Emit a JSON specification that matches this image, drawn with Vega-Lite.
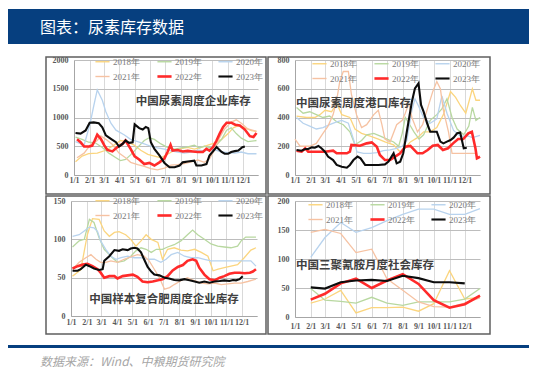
{
"$schema": "https://vega.github.io/schema/vega-lite/v6.json",
"padding": {"left": 8, "top": 9, "right": 0, "bottom": 0},
"background": "white",
"config": {
  "view": {"stroke": null},
  "font": "Liberation Serif",
  "axis": {"labelFont": "Liberation Serif", "labelFontSize": 8, "labelFontWeight": "bold", "labelColor": "#595959", "ticks": false, "domainColor": "#a6a6a6", "labelFlush": false, "labelOverlap": false, "tickCount": 30},
  "axisX": {"gridColor": "#d9d9d9", "labelPadding": 1},
  "axisY": {"gridColor": "#bdbdbd", "labelPadding": 6},
  "legend": {"orient": "none", "direction": "horizontal", "columns": 3, "symbolType": "stroke", "symbolSize": 200, "labelOffset": 6, "columnPadding": 12, "rowPadding": 4, "padding": 0, "labelFont": "Liberation Serif", "labelFontSize": 9, "labelColor": "#7a7a7a"}
},
"datasets": {
"p1": [
{"s":"2018年","d":"1/4","v":230},{"s":"2018年","d":"1/17","v":330},{"s":"2018年","d":"1/30","v":370},{"s":"2018年","d":"2/16","v":380},{"s":"2018年","d":"3/5","v":430},{"s":"2018年","d":"3/21","v":520},{"s":"2018年","d":"4/3","v":600},{"s":"2018年","d":"4/16","v":580},{"s":"2018年","d":"4/30","v":520},{"s":"2018年","d":"5/13","v":430},{"s":"2018年","d":"5/27","v":360},{"s":"2018年","d":"6/9","v":330},{"s":"2018年","d":"6/22","v":300},{"s":"2018年","d":"7/5","v":360},{"s":"2018年","d":"7/19","v":430},{"s":"2018年","d":"8/1","v":460},{"s":"2018年","d":"8/14","v":480},{"s":"2018年","d":"8/27","v":450},{"s":"2018年","d":"9/10","v":480},{"s":"2018年","d":"9/23","v":520},{"s":"2018年","d":"10/7","v":560},{"s":"2018年","d":"10/20","v":620},{"s":"2018年","d":"11/2","v":720},{"s":"2018年","d":"11/12","v":820},{"s":"2018年","d":"11/22","v":860},{"s":"2018年","d":"12/5","v":820},{"s":"2018年","d":"12/18","v":770},{"s":"2018年","d":"12/28","v":760},
{"s":"2019年","d":"1/4","v":660},{"s":"2019年","d":"1/17","v":620},{"s":"2019年","d":"1/30","v":570},{"s":"2019年","d":"2/12","v":560},{"s":"2019年","d":"2/26","v":480},{"s":"2019年","d":"3/11","v":380},{"s":"2019年","d":"3/25","v":300},{"s":"2019年","d":"4/3","v":250},{"s":"2019年","d":"4/13","v":270},{"s":"2019年","d":"4/23","v":350},{"s":"2019年","d":"5/7","v":480},{"s":"2019年","d":"5/20","v":600},{"s":"2019年","d":"5/30","v":650},{"s":"2019年","d":"6/9","v":620},{"s":"2019年","d":"6/22","v":540},{"s":"2019年","d":"7/5","v":480},{"s":"2019年","d":"7/19","v":450},{"s":"2019年","d":"8/1","v":470},{"s":"2019年","d":"8/14","v":490},{"s":"2019年","d":"8/27","v":520},{"s":"2019年","d":"9/6","v":470},{"s":"2019年","d":"9/16","v":500},{"s":"2019年","d":"9/29","v":470},{"s":"2019年","d":"10/10","v":520},{"s":"2019年","d":"10/20","v":620},{"s":"2019年","d":"10/30","v":780},{"s":"2019年","d":"11/8","v":820},{"s":"2019年","d":"11/18","v":720},{"s":"2019年","d":"11/28","v":640},{"s":"2019年","d":"12/11","v":580},{"s":"2019年","d":"12/28","v":600},
{"s":"2020年","d":"1/4","v":580},{"s":"2020年","d":"1/21","v":520},{"s":"2020年","d":"2/2","v":900},{"s":"2020年","d":"2/9","v":1200},{"s":"2020年","d":"2/16","v":1480},{"s":"2020年","d":"2/26","v":1300},{"s":"2020年","d":"3/5","v":1100},{"s":"2020年","d":"3/15","v":900},{"s":"2020年","d":"3/25","v":780},{"s":"2020年","d":"3/31","v":750},{"s":"2020年","d":"4/10","v":700},{"s":"2020年","d":"4/23","v":620},{"s":"2020年","d":"5/7","v":580},{"s":"2020年","d":"5/20","v":540},{"s":"2020年","d":"6/2","v":500},{"s":"2020年","d":"6/15","v":470},{"s":"2020年","d":"6/29","v":450},{"s":"2020年","d":"7/12","v":420},{"s":"2020年","d":"7/25","v":400},{"s":"2020年","d":"8/7","v":380},{"s":"2020年","d":"8/21","v":400},{"s":"2020年","d":"9/3","v":430},{"s":"2020年","d":"9/16","v":420},{"s":"2020年","d":"9/29","v":450},{"s":"2020年","d":"10/10","v":430},{"s":"2020年","d":"10/20","v":400},{"s":"2020年","d":"11/2","v":390},{"s":"2020年","d":"11/15","v":380},{"s":"2020年","d":"11/28","v":400},{"s":"2020年","d":"12/11","v":370},{"s":"2020年","d":"12/28","v":370},
{"s":"2021年","d":"1/7","v":300},{"s":"2021年","d":"1/21","v":380},{"s":"2021年","d":"2/2","v":520},{"s":"2021年","d":"2/16","v":600},{"s":"2021年","d":"2/23","v":680},{"s":"2021年","d":"3/5","v":620},{"s":"2021年","d":"3/18","v":530},{"s":"2021年","d":"3/31","v":380},{"s":"2021年","d":"4/13","v":300},{"s":"2021年","d":"4/23","v":220},{"s":"2021年","d":"5/7","v":180},{"s":"2021年","d":"5/20","v":150},{"s":"2021年","d":"6/2","v":110},{"s":"2021年","d":"6/15","v":90},{"s":"2021年","d":"6/29","v":120},{"s":"2021年","d":"7/12","v":170},{"s":"2021年","d":"7/25","v":180},{"s":"2021年","d":"8/7","v":200},{"s":"2021年","d":"8/21","v":230},{"s":"2021年","d":"9/3","v":260},{"s":"2021年","d":"9/16","v":220},{"s":"2021年","d":"9/26","v":280},{"s":"2021年","d":"10/7","v":450},{"s":"2021年","d":"10/16","v":650},{"s":"2021年","d":"10/26","v":800},{"s":"2021年","d":"11/8","v":920},{"s":"2021年","d":"11/18","v":960},{"s":"2021年","d":"11/28","v":900},{"s":"2021年","d":"12/11","v":800},{"s":"2021年","d":"12/28","v":760},
{"s":"2022年","d":"1/7","v":620},{"s":"2022年","d":"1/14","v":570},{"s":"2022年","d":"1/21","v":495},{"s":"2022年","d":"1/31","v":495},{"s":"2022年","d":"2/6","v":510},{"s":"2022年","d":"2/11","v":600},{"s":"2022年","d":"2/16","v":700},{"s":"2022年","d":"2/23","v":630},{"s":"2022年","d":"3/2","v":515},{"s":"2022年","d":"3/8","v":435},{"s":"2022年","d":"3/18","v":410},{"s":"2022年","d":"3/28","v":485},{"s":"2022年","d":"4/7","v":540},{"s":"2022年","d":"4/13","v":600},{"s":"2022年","d":"4/23","v":455},{"s":"2022年","d":"5/1","v":325},{"s":"2022年","d":"5/10","v":270},{"s":"2022年","d":"5/20","v":190},{"s":"2022年","d":"5/30","v":210},{"s":"2022年","d":"6/9","v":165},{"s":"2022年","d":"6/19","v":220},{"s":"2022年","d":"6/29","v":290},{"s":"2022年","d":"7/5","v":400},{"s":"2022年","d":"7/11","v":525},{"s":"2022年","d":"7/15","v":425},{"s":"2022年","d":"7/25","v":435},{"s":"2022年","d":"8/4","v":410},{"s":"2022年","d":"8/14","v":420},{"s":"2022年","d":"8/24","v":410},{"s":"2022年","d":"9/3","v":400},{"s":"2022年","d":"9/13","v":400},{"s":"2022年","d":"9/20","v":455},{"s":"2022年","d":"9/26","v":425},{"s":"2022年","d":"10/3","v":485},{"s":"2022年","d":"10/10","v":600},{"s":"2022年","d":"10/16","v":715},{"s":"2022年","d":"10/23","v":835},{"s":"2022年","d":"10/30","v":910},{"s":"2022年","d":"11/8","v":910},{"s":"2022年","d":"11/16","v":875},{"s":"2022年","d":"11/25","v":860},{"s":"2022年","d":"12/5","v":790},{"s":"2022年","d":"12/15","v":675},{"s":"2022年","d":"12/22","v":660},{"s":"2022年","d":"12/28","v":730},
{"s":"2023年","d":"1/4","v":730},{"s":"2023年","d":"1/14","v":720},{"s":"2023年","d":"1/24","v":775},{"s":"2023年","d":"2/1","v":910},{"s":"2023年","d":"2/9","v":915},{"s":"2023年","d":"2/19","v":900},{"s":"2023年","d":"2/26","v":830},{"s":"2023年","d":"3/5","v":690},{"s":"2023年","d":"3/15","v":630},{"s":"2023年","d":"3/25","v":570},{"s":"2023年","d":"3/31","v":495},{"s":"2023年","d":"4/7","v":540},{"s":"2023年","d":"4/13","v":600},{"s":"2023年","d":"4/20","v":560},{"s":"2023年","d":"4/27","v":570},{"s":"2023年","d":"5/1","v":880},{"s":"2023年","d":"5/10","v":815},{"s":"2023年","d":"5/17","v":790},{"s":"2023年","d":"5/23","v":835},{"s":"2023年","d":"5/28","v":815},{"s":"2023年","d":"6/2","v":570},{"s":"2023年","d":"6/9","v":455},{"s":"2023年","d":"6/19","v":340},{"s":"2023年","d":"6/29","v":210},{"s":"2023年","d":"7/9","v":135},{"s":"2023年","d":"7/19","v":135},{"s":"2023年","d":"7/29","v":165},{"s":"2023年","d":"8/4","v":220},{"s":"2023年","d":"8/14","v":235},{"s":"2023年","d":"8/27","v":250},{"s":"2023年","d":"8/31","v":165},{"s":"2023年","d":"9/10","v":165},{"s":"2023年","d":"9/20","v":190},{"s":"2023年","d":"9/26","v":340},{"s":"2023年","d":"10/10","v":485},{"s":"2023年","d":"10/20","v":400},{"s":"2023年","d":"10/26","v":370},{"s":"2023年","d":"11/2","v":370},{"s":"2023年","d":"11/8","v":400},{"s":"2023年","d":"11/15","v":415},{"s":"2023年","d":"11/22","v":425},{"s":"2023年","d":"11/30","v":485},{"s":"2023年","d":"12/5","v":495}
],
"p2": [
{"s":"2018年","d":"1/4","v":410},{"s":"2018年","d":"1/24","v":400},{"s":"2018年","d":"2/9","v":400},{"s":"2018年","d":"2/19","v":420},{"s":"2018年","d":"3/1","v":450},{"s":"2018年","d":"3/14","v":440},{"s":"2018年","d":"3/24","v":500},{"s":"2018年","d":"4/3","v":420},{"s":"2018年","d":"4/19","v":400},{"s":"2018年","d":"4/29","v":320},{"s":"2018年","d":"5/12","v":290},{"s":"2018年","d":"5/29","v":270},{"s":"2018年","d":"6/14","v":250},{"s":"2018年","d":"6/27","v":230},{"s":"2018年","d":"7/14","v":210},{"s":"2018年","d":"7/27","v":160},{"s":"2018年","d":"8/6","v":190},{"s":"2018年","d":"8/16","v":230},{"s":"2018年","d":"8/30","v":260},{"s":"2018年","d":"9/11","v":300},{"s":"2018年","d":"9/24","v":300},{"s":"2018年","d":"10/7","v":330},{"s":"2018年","d":"10/20","v":420},{"s":"2018年","d":"11/3","v":580},{"s":"2018年","d":"11/13","v":540},{"s":"2018年","d":"11/23","v":480},{"s":"2018年","d":"12/3","v":430},{"s":"2018年","d":"12/10","v":520},{"s":"2018年","d":"12/16","v":600},{"s":"2018年","d":"12/23","v":520},{"s":"2018年","d":"12/31","v":520},
{"s":"2019年","d":"1/4","v":470},{"s":"2019年","d":"1/17","v":430},{"s":"2019年","d":"1/30","v":440},{"s":"2019年","d":"2/12","v":420},{"s":"2019年","d":"2/25","v":400},{"s":"2019年","d":"3/10","v":410},{"s":"2019年","d":"3/24","v":370},{"s":"2019年","d":"4/6","v":350},{"s":"2019年","d":"4/19","v":300},{"s":"2019年","d":"4/29","v":210},{"s":"2019年","d":"5/12","v":240},{"s":"2019年","d":"5/22","v":280},{"s":"2019年","d":"6/5","v":290},{"s":"2019年","d":"6/18","v":270},{"s":"2019年","d":"7/1","v":250},{"s":"2019年","d":"7/14","v":230},{"s":"2019年","d":"7/24","v":200},{"s":"2019年","d":"7/31","v":290},{"s":"2019年","d":"8/6","v":400},{"s":"2019年","d":"8/13","v":360},{"s":"2019年","d":"8/23","v":300},{"s":"2019年","d":"9/2","v":250},{"s":"2019年","d":"9/11","v":280},{"s":"2019年","d":"9/24","v":380},{"s":"2019年","d":"10/7","v":420},{"s":"2019年","d":"10/17","v":460},{"s":"2019年","d":"10/27","v":530},{"s":"2019年","d":"11/6","v":400},{"s":"2019年","d":"11/16","v":320},{"s":"2019年","d":"11/29","v":280},{"s":"2019年","d":"12/9","v":340},{"s":"2019年","d":"12/16","v":470},{"s":"2019年","d":"12/23","v":380},{"s":"2019年","d":"12/31","v":400},
{"s":"2020年","d":"1/4","v":400},{"s":"2020年","d":"1/17","v":360},{"s":"2020年","d":"1/30","v":340},{"s":"2020年","d":"2/12","v":320},{"s":"2020年","d":"2/25","v":330},{"s":"2020年","d":"3/10","v":350},{"s":"2020年","d":"3/24","v":370},{"s":"2020年","d":"4/3","v":380},{"s":"2020年","d":"4/16","v":360},{"s":"2020年","d":"4/26","v":250},{"s":"2020年","d":"5/3","v":160},{"s":"2020年","d":"5/16","v":150},{"s":"2020年","d":"5/29","v":150},{"s":"2020年","d":"6/11","v":155},{"s":"2020年","d":"6/24","v":170},{"s":"2020年","d":"7/7","v":175},{"s":"2020年","d":"7/20","v":185},{"s":"2020年","d":"7/31","v":200},{"s":"2020年","d":"8/9","v":240},{"s":"2020年","d":"8/19","v":450},{"s":"2020年","d":"8/25","v":530},{"s":"2020年","d":"9/1","v":480},{"s":"2020年","d":"9/11","v":400},{"s":"2020年","d":"9/24","v":360},{"s":"2020年","d":"10/7","v":390},{"s":"2020年","d":"10/17","v":550},{"s":"2020年","d":"10/27","v":430},{"s":"2020年","d":"11/9","v":310},{"s":"2020年","d":"11/22","v":270},{"s":"2020年","d":"12/8","v":270},{"s":"2020年","d":"12/16","v":260},{"s":"2020年","d":"12/26","v":270},{"s":"2020年","d":"12/31","v":275},
{"s":"2021年","d":"1/1","v":250},{"s":"2021年","d":"1/11","v":200},{"s":"2021年","d":"1/30","v":200},{"s":"2021年","d":"2/12","v":220},{"s":"2021年","d":"2/25","v":290},{"s":"2021年","d":"3/7","v":340},{"s":"2021年","d":"3/17","v":420},{"s":"2021年","d":"3/24","v":520},{"s":"2021年","d":"3/30","v":650},{"s":"2021年","d":"4/6","v":720},{"s":"2021年","d":"4/16","v":720},{"s":"2021年","d":"4/22","v":560},{"s":"2021年","d":"5/2","v":420},{"s":"2021年","d":"5/12","v":330},{"s":"2021年","d":"5/22","v":350},{"s":"2021年","d":"6/5","v":420},{"s":"2021年","d":"6/14","v":450},{"s":"2021年","d":"6/21","v":350},{"s":"2021年","d":"6/27","v":250},{"s":"2021年","d":"7/7","v":230},{"s":"2021年","d":"7/20","v":350},{"s":"2021年","d":"7/31","v":380},{"s":"2021年","d":"8/6","v":430},{"s":"2021年","d":"8/13","v":500},{"s":"2021年","d":"8/19","v":400},{"s":"2021年","d":"8/30","v":300},{"s":"2021年","d":"9/9","v":350},{"s":"2021年","d":"9/22","v":500},{"s":"2021年","d":"9/29","v":580},{"s":"2021年","d":"10/7","v":650},{"s":"2021年","d":"10/14","v":600},{"s":"2021年","d":"10/20","v":450},{"s":"2021年","d":"10/30","v":300},{"s":"2021年","d":"11/6","v":150},{"s":"2021年","d":"11/16","v":150},{"s":"2021年","d":"11/29","v":150},{"s":"2021年","d":"12/12","v":150},{"s":"2021年","d":"12/23","v":150},
{"s":"2022年","d":"1/4","v":169},{"s":"2022年","d":"1/14","v":162},{"s":"2022年","d":"1/21","v":186},{"s":"2022年","d":"1/27","v":162},{"s":"2022年","d":"2/12","v":162},{"s":"2022年","d":"3/1","v":162},{"s":"2022年","d":"3/17","v":169},{"s":"2022年","d":"3/24","v":151},{"s":"2022年","d":"4/13","v":151},{"s":"2022年","d":"4/19","v":162},{"s":"2022年","d":"4/22","v":209},{"s":"2022年","d":"5/9","v":204},{"s":"2022年","d":"5/22","v":220},{"s":"2022年","d":"6/1","v":227},{"s":"2022年","d":"6/11","v":197},{"s":"2022年","d":"6/17","v":139},{"s":"2022年","d":"6/27","v":104},{"s":"2022年","d":"7/7","v":104},{"s":"2022年","d":"7/17","v":128},{"s":"2022年","d":"7/27","v":151},{"s":"2022年","d":"8/6","v":197},{"s":"2022年","d":"8/16","v":202},{"s":"2022年","d":"8/30","v":151},{"s":"2022年","d":"9/9","v":151},{"s":"2022年","d":"9/19","v":174},{"s":"2022年","d":"9/29","v":204},{"s":"2022年","d":"10/9","v":209},{"s":"2022年","d":"10/19","v":174},{"s":"2022年","d":"10/29","v":186},{"s":"2022年","d":"11/8","v":220},{"s":"2022年","d":"11/18","v":250},{"s":"2022年","d":"11/28","v":250},{"s":"2022年","d":"12/8","v":290},{"s":"2022年","d":"12/15","v":301},{"s":"2022年","d":"12/22","v":186},{"s":"2022年","d":"12/25","v":116},{"s":"2022年","d":"12/28","v":121},{"s":"2022年","d":"12/31","v":128},
{"s":"2023年","d":"1/4","v":174},{"s":"2023年","d":"1/14","v":169},{"s":"2023年","d":"1/21","v":181},{"s":"2023年","d":"1/27","v":181},{"s":"2023年","d":"2/3","v":192},{"s":"2023年","d":"2/9","v":190},{"s":"2023年","d":"2/16","v":202},{"s":"2023年","d":"2/22","v":186},{"s":"2023年","d":"3/1","v":162},{"s":"2023年","d":"3/7","v":128},{"s":"2023年","d":"3/17","v":104},{"s":"2023年","d":"3/24","v":70},{"s":"2023年","d":"4/3","v":58},{"s":"2023年","d":"4/13","v":51},{"s":"2023年","d":"4/19","v":70},{"s":"2023年","d":"4/26","v":104},{"s":"2023年","d":"5/4","v":128},{"s":"2023年","d":"5/10","v":116},{"s":"2023年","d":"5/19","v":70},{"s":"2023年","d":"6/1","v":70},{"s":"2023年","d":"6/14","v":70},{"s":"2023年","d":"6/27","v":74},{"s":"2023年","d":"7/4","v":93},{"s":"2023年","d":"7/10","v":128},{"s":"2023年","d":"7/14","v":151},{"s":"2023年","d":"7/20","v":81},{"s":"2023年","d":"7/27","v":93},{"s":"2023年","d":"8/2","v":151},{"s":"2023年","d":"8/9","v":301},{"s":"2023年","d":"8/19","v":510},{"s":"2023年","d":"8/25","v":603},{"s":"2023年","d":"9/1","v":638},{"s":"2023年","d":"9/6","v":487},{"s":"2023年","d":"9/11","v":441},{"s":"2023年","d":"9/18","v":359},{"s":"2023年","d":"9/24","v":301},{"s":"2023年","d":"10/1","v":301},{"s":"2023年","d":"10/7","v":301},{"s":"2023年","d":"10/14","v":232},{"s":"2023年","d":"10/20","v":220},{"s":"2023年","d":"10/27","v":232},{"s":"2023年","d":"11/3","v":243},{"s":"2023年","d":"11/9","v":260},{"s":"2023年","d":"11/16","v":290},{"s":"2023年","d":"11/22","v":295},{"s":"2023年","d":"11/29","v":186},{"s":"2023年","d":"12/5","v":190}
],
"p3": [
{"s":"2018年","d":"1/4","v":52},{"s":"2018年","d":"1/20","v":60},{"s":"2018年","d":"2/2","v":106},{"s":"2018年","d":"2/12","v":127},{"s":"2018年","d":"2/25","v":126},{"s":"2018年","d":"3/7","v":111},{"s":"2018年","d":"3/17","v":104},{"s":"2018年","d":"3/27","v":109},{"s":"2018年","d":"4/5","v":110},{"s":"2018年","d":"4/18","v":106},{"s":"2018年","d":"4/28","v":100},{"s":"2018年","d":"5/8","v":91},{"s":"2018年","d":"5/18","v":98},{"s":"2018年","d":"5/28","v":106},{"s":"2018年","d":"6/7","v":100},{"s":"2018年","d":"6/20","v":96},{"s":"2018年","d":"6/29","v":74},{"s":"2018年","d":"7/9","v":87},{"s":"2018年","d":"7/22","v":89},{"s":"2018年","d":"8/4","v":86},{"s":"2018年","d":"8/17","v":85},{"s":"2018年","d":"8/31","v":87},{"s":"2018年","d":"9/13","v":83},{"s":"2018年","d":"9/26","v":78},{"s":"2018年","d":"10/6","v":59},{"s":"2018年","d":"10/16","v":61},{"s":"2018年","d":"10/28","v":63},{"s":"2018年","d":"11/10","v":65},{"s":"2018年","d":"11/23","v":67},{"s":"2018年","d":"12/6","v":76},{"s":"2018年","d":"12/19","v":86},{"s":"2018年","d":"12/29","v":89},
{"s":"2019年","d":"1/4","v":90},{"s":"2019年","d":"1/17","v":98},{"s":"2019年","d":"1/27","v":100},{"s":"2019年","d":"2/6","v":126},{"s":"2019年","d":"2/15","v":122},{"s":"2019年","d":"2/25","v":102},{"s":"2019年","d":"3/7","v":87},{"s":"2019年","d":"3/17","v":80},{"s":"2019年","d":"3/23","v":76},{"s":"2019年","d":"4/2","v":70},{"s":"2019年","d":"4/15","v":72},{"s":"2019年","d":"4/28","v":78},{"s":"2019年","d":"5/8","v":85},{"s":"2019年","d":"5/18","v":89},{"s":"2019年","d":"5/28","v":87},{"s":"2019年","d":"6/7","v":83},{"s":"2019年","d":"6/17","v":87},{"s":"2019年","d":"6/29","v":87},{"s":"2019年","d":"7/9","v":90},{"s":"2019年","d":"7/22","v":93},{"s":"2019年","d":"8/4","v":98},{"s":"2019年","d":"8/17","v":106},{"s":"2019年","d":"8/27","v":112},{"s":"2019年","d":"9/6","v":106},{"s":"2019年","d":"9/19","v":100},{"s":"2019年","d":"10/2","v":94},{"s":"2019年","d":"10/15","v":91},{"s":"2019年","d":"10/28","v":90},{"s":"2019年","d":"11/10","v":89},{"s":"2019年","d":"11/23","v":91},{"s":"2019年","d":"11/30","v":98},{"s":"2019年","d":"12/9","v":103},{"s":"2019年","d":"12/29","v":103},
{"s":"2020年","d":"1/4","v":104},{"s":"2020年","d":"1/17","v":106},{"s":"2020年","d":"1/27","v":111},{"s":"2020年","d":"2/6","v":116},{"s":"2020年","d":"2/15","v":115},{"s":"2020年","d":"2/22","v":110},{"s":"2020年","d":"2/28","v":98},{"s":"2020年","d":"3/10","v":87},{"s":"2020年","d":"3/20","v":78},{"s":"2020年","d":"3/30","v":74},{"s":"2020年","d":"4/9","v":76},{"s":"2020年","d":"4/22","v":78},{"s":"2020年","d":"5/5","v":76},{"s":"2020年","d":"5/18","v":76},{"s":"2020年","d":"5/31","v":74},{"s":"2020年","d":"6/13","v":74},{"s":"2020年","d":"6/26","v":70},{"s":"2020年","d":"7/6","v":74},{"s":"2020年","d":"7/16","v":80},{"s":"2020年","d":"7/29","v":83},{"s":"2020年","d":"8/11","v":78},{"s":"2020年","d":"8/24","v":76},{"s":"2020年","d":"9/6","v":76},{"s":"2020年","d":"9/19","v":74},{"s":"2020年","d":"10/2","v":72},{"s":"2020年","d":"10/15","v":72},{"s":"2020年","d":"10/28","v":72},{"s":"2020年","d":"11/10","v":72},{"s":"2020年","d":"11/23","v":72},{"s":"2020年","d":"12/6","v":72},{"s":"2020年","d":"12/19","v":72},{"s":"2020年","d":"12/29","v":65},
{"s":"2021年","d":"1/4","v":61},{"s":"2021年","d":"1/17","v":70},{"s":"2021年","d":"1/30","v":76},{"s":"2021年","d":"2/9","v":80},{"s":"2021年","d":"2/19","v":74},{"s":"2021年","d":"2/28","v":70},{"s":"2021年","d":"3/10","v":70},{"s":"2021年","d":"3/20","v":72},{"s":"2021年","d":"4/2","v":70},{"s":"2021年","d":"4/15","v":74},{"s":"2021年","d":"4/28","v":77},{"s":"2021年","d":"5/11","v":80},{"s":"2021年","d":"5/24","v":78},{"s":"2021年","d":"6/3","v":72},{"s":"2021年","d":"6/13","v":61},{"s":"2021年","d":"6/23","v":50},{"s":"2021年","d":"7/3","v":35},{"s":"2021年","d":"7/13","v":37},{"s":"2021年","d":"7/22","v":41},{"s":"2021年","d":"8/4","v":46},{"s":"2021年","d":"8/17","v":50},{"s":"2021年","d":"8/31","v":46},{"s":"2021年","d":"9/13","v":43},{"s":"2021年","d":"9/26","v":42},{"s":"2021年","d":"10/9","v":43},{"s":"2021年","d":"10/22","v":41},{"s":"2021年","d":"11/4","v":42},{"s":"2021年","d":"11/17","v":43},{"s":"2021年","d":"11/30","v":43},{"s":"2021年","d":"12/13","v":45},{"s":"2021年","d":"12/29","v":48},
{"s":"2022年","d":"1/4","v":62},{"s":"2022年","d":"1/14","v":65},{"s":"2022年","d":"1/24","v":67},{"s":"2022年","d":"2/2","v":68},{"s":"2022年","d":"2/12","v":65},{"s":"2022年","d":"2/22","v":61},{"s":"2022年","d":"2/28","v":56.5},{"s":"2022年","d":"3/7","v":50},{"s":"2022年","d":"3/17","v":52},{"s":"2022年","d":"3/27","v":52},{"s":"2022年","d":"4/2","v":49},{"s":"2022年","d":"4/12","v":52},{"s":"2022年","d":"4/22","v":53},{"s":"2022年","d":"5/2","v":54},{"s":"2022年","d":"5/11","v":51},{"s":"2022年","d":"5/21","v":45},{"s":"2022年","d":"5/31","v":44},{"s":"2022年","d":"6/10","v":45},{"s":"2022年","d":"6/20","v":46.5},{"s":"2022年","d":"6/29","v":48},{"s":"2022年","d":"7/9","v":52},{"s":"2022年","d":"7/19","v":59.5},{"s":"2022年","d":"7/29","v":64},{"s":"2022年","d":"8/8","v":66.5},{"s":"2022年","d":"8/17","v":72},{"s":"2022年","d":"8/27","v":74},{"s":"2022年","d":"9/3","v":72},{"s":"2022年","d":"9/9","v":63},{"s":"2022年","d":"9/19","v":54},{"s":"2022年","d":"9/29","v":48},{"s":"2022年","d":"10/9","v":46.5},{"s":"2022年","d":"10/19","v":50},{"s":"2022年","d":"10/28","v":52},{"s":"2022年","d":"11/7","v":55},{"s":"2022年","d":"11/17","v":56.5},{"s":"2022年","d":"11/27","v":56.5},{"s":"2022年","d":"12/7","v":55.7},{"s":"2022年","d":"12/17","v":56.5},{"s":"2022年","d":"12/23","v":58},{"s":"2022年","d":"12/29","v":61},
{"s":"2023年","d":"1/4","v":59},{"s":"2023年","d":"1/14","v":59},{"s":"2023年","d":"1/20","v":61},{"s":"2023年","d":"1/30","v":67},{"s":"2023年","d":"2/6","v":65},{"s":"2023年","d":"2/15","v":62},{"s":"2023年","d":"2/25","v":60},{"s":"2023年","d":"3/4","v":61},{"s":"2023年","d":"3/7","v":72},{"s":"2023年","d":"3/17","v":78},{"s":"2023年","d":"3/27","v":86},{"s":"2023年","d":"4/5","v":85},{"s":"2023年","d":"4/12","v":87},{"s":"2023年","d":"4/22","v":86},{"s":"2023年","d":"4/28","v":88},{"s":"2023年","d":"5/5","v":89},{"s":"2023年","d":"5/11","v":88},{"s":"2023年","d":"5/18","v":83},{"s":"2023年","d":"5/24","v":74},{"s":"2023年","d":"5/31","v":64},{"s":"2023年","d":"6/7","v":58},{"s":"2023年","d":"6/13","v":54},{"s":"2023年","d":"6/23","v":53},{"s":"2023年","d":"7/3","v":50},{"s":"2023年","d":"7/12","v":49},{"s":"2023年","d":"7/22","v":47},{"s":"2023年","d":"8/1","v":46.5},{"s":"2023年","d":"8/11","v":48},{"s":"2023年","d":"8/21","v":46.5},{"s":"2023年","d":"8/31","v":45},{"s":"2023年","d":"9/9","v":43.5},{"s":"2023年","d":"9/19","v":45},{"s":"2023年","d":"9/29","v":43.5},{"s":"2023年","d":"10/9","v":45},{"s":"2023年","d":"10/19","v":45.7},{"s":"2023年","d":"10/28","v":46.5},{"s":"2023年","d":"11/7","v":45.7},{"s":"2023年","d":"11/14","v":47},{"s":"2023年","d":"11/20","v":46.5},{"s":"2023年","d":"11/27","v":48},{"s":"2023年","d":"12/3","v":52}
],
"p4": [
{"s":"2018年","d":"2/1","v":24},{"s":"2018年","d":"3/1","v":31},{"s":"2018年","d":"4/1","v":46},{"s":"2018年","d":"5/1","v":7},{"s":"2018年","d":"6/1","v":16},{"s":"2018年","d":"7/1","v":16},{"s":"2018年","d":"8/1","v":17},{"s":"2018年","d":"9/1","v":10},{"s":"2018年","d":"10/1","v":23},{"s":"2018年","d":"11/1","v":80},{"s":"2018年","d":"12/1","v":31},{"s":"2018年","d":"12/31","v":34},
{"s":"2019年","d":"2/1","v":49},{"s":"2019年","d":"3/1","v":29},{"s":"2019年","d":"4/1","v":27},{"s":"2019年","d":"5/1","v":24},{"s":"2019年","d":"6/1","v":34},{"s":"2019年","d":"7/1","v":24},{"s":"2019年","d":"8/1","v":20},{"s":"2019年","d":"9/1","v":26},{"s":"2019年","d":"10/1","v":26},{"s":"2019年","d":"11/1","v":26},{"s":"2019年","d":"12/1","v":31},{"s":"2019年","d":"12/31","v":49},
{"s":"2020年","d":"2/1","v":103},{"s":"2020年","d":"3/1","v":137},{"s":"2020年","d":"4/1","v":163},{"s":"2020年","d":"5/1","v":146},{"s":"2020年","d":"6/1","v":154},{"s":"2020年","d":"7/1","v":166},{"s":"2020年","d":"8/1","v":177},{"s":"2020年","d":"9/1","v":186},{"s":"2020年","d":"10/1","v":186},{"s":"2020年","d":"11/1","v":177},{"s":"2020年","d":"12/1","v":177},{"s":"2020年","d":"12/31","v":187},
{"s":"2021年","d":"2/1","v":146},{"s":"2021年","d":"3/1","v":151},{"s":"2021年","d":"4/1","v":144},{"s":"2021年","d":"5/1","v":111},{"s":"2021年","d":"6/1","v":117},{"s":"2021年","d":"7/1","v":66},{"s":"2021年","d":"8/1","v":46},{"s":"2021年","d":"9/1","v":26},{"s":"2021年","d":"10/1","v":18},{"s":"2021年","d":"11/1","v":17},{"s":"2021年","d":"12/1","v":24},{"s":"2021年","d":"12/31","v":33},
{"s":"2022年","d":"2/1","v":30},{"s":"2022年","d":"3/1","v":40},{"s":"2022年","d":"4/1","v":58},{"s":"2022年","d":"5/1","v":66},{"s":"2022年","d":"6/1","v":50},{"s":"2022年","d":"7/1","v":63},{"s":"2022年","d":"8/1","v":74},{"s":"2022年","d":"9/1","v":57},{"s":"2022年","d":"10/1","v":29},{"s":"2022年","d":"11/1","v":16},{"s":"2022年","d":"12/1","v":22},{"s":"2022年","d":"12/31","v":37},
{"s":"2023年","d":"2/1","v":51},{"s":"2023年","d":"3/1","v":49},{"s":"2023年","d":"4/1","v":60},{"s":"2023年","d":"5/1","v":63},{"s":"2023年","d":"6/1","v":64},{"s":"2023年","d":"7/1","v":62},{"s":"2023年","d":"8/1","v":71},{"s":"2023年","d":"9/1","v":67},{"s":"2023年","d":"10/1","v":60},{"s":"2023年","d":"11/1","v":60},{"s":"2023年","d":"12/1","v":58}
]
},
"spacing": 11,
"resolve": {"scale": {"color": "independent"}, "legend": {"color": "independent"}},
"vconcat": [
{
  "width": 521, "height": 35,
  "view": {"fill": "#063f7f", "stroke": null},
  "data": {"values": [{"t": "图表：尿素库存数据"}]},
  "mark": {"type": "text", "align": "left", "baseline": "middle", "x": 32, "y": 19, "font": "Noto Sans CJK SC", "fontSize": 16, "color": "#ffffff"},
  "encoding": {"text": {"field": "t", "type": "nominal"}}
},
{
  "spacing": 10,
  "resolve": {"scale": {"color": "independent"}, "legend": {"color": "independent"}},
  "vconcat": [
  {
    "spacing": 0,
    "resolve": {"scale": {"color": "independent"}, "legend": {"color": "independent"}},
    "hconcat": [
    {"width": 37, "height": 10, "data": {"values": []}, "mark": "point", "view": {"stroke": null}},
    {
      "spacing": 0,
      "resolve": {"scale": {"color": "independent"}, "legend": {"color": "independent"}},
      "vconcat": [
      {
        "spacing": 0,
        "resolve": {"scale": {"color": "independent"}, "legend": {"color": "independent"}},
        "hconcat": [
        {
          "width": 220, "height": 137,
          "view": {"stroke": "#5f5f5f", "strokeWidth": 1.5},
          "resolve": {"axis": {"x": "independent"}},
          "layer": [
          {
            "data": {"name": "p1", "format": {"parse": {"d": "date:'%m/%d'"}}},
            "mark": {"type": "line"},
            "encoding": {
              "x": {"field": "d", "type": "temporal", "title": null,
                "scale": {"domain": [{"year":1900,"month":1,"date":1},{"year":1900,"month":12,"date":31}], "range": [28, 212], "nice": false},
                "axis": {"orient": "bottom", "offset": -19, "grid": false, "tickCount": 30, "labelOverlap": false, "labelFlush": false, "format": "%-m/%-d", "values": [{"year":1900,"month":1,"date":1},{"year":1900,"month":2,"date":1},{"year":1900,"month":3,"date":1},{"year":1900,"month":4,"date":1},{"year":1900,"month":5,"date":1},{"year":1900,"month":6,"date":1},{"year":1900,"month":7,"date":1},{"year":1900,"month":8,"date":1},{"year":1900,"month":9,"date":1},{"year":1900,"month":10,"date":1},{"year":1900,"month":11,"date":1},{"year":1900,"month":12,"date":1}]}},
              "y": {"field": "v", "type": "quantitative", "title": null,
                "scale": {"domain": [0, 2000], "range": [118, 3], "nice": false, "zero": false},
                "axis": {"offset": -28, "grid": true, "tickCount": 30, "labelOverlap": false, "format": "d", "values": [0, 500, 1000, 1500, 2000]}},
              "color": {"field": "s", "type": "nominal",
                "scale": {"domain": ["2018年","2019年","2020年","2021年","2022年","2023年"], "range": ["#fbd57e","#b8d8a0","#b8d3ee","#f6c2a2","#ff2a2a","#0d0d0d"]},
                "legend": {"title": null, "legendX": 52, "legendY": 0, "encode": {"symbols": {"update": {"strokeWidth": {"signal": "datum.value == '2022年' ? 2.6 : datum.value == '2023年' ? 2.1 : 1.4"}}}}}},
              "strokeWidth": {"condition": [{"test": "datum.s == '2022年'", "value": 2.6}, {"test": "datum.s == '2023年'", "value": 2.1}], "value": 1.3}
            }
          },
          {
            "data": {"values": [{"t": "中国尿素周度企业库存"}]},
            "mark": {"type": "text", "font": "Noto Sans CJK SC", "fontWeight": "bold", "fontSize": 11.5, "color": "#404040", "align": "center", "baseline": "middle"},
            "encoding": {"text": {"field": "t", "type": "nominal"},
              "x": {"datum": {"year":1900,"month":8,"date":25}, "type": "temporal", "axis": {"orient": "top", "grid": true, "labels": false, "domain": false, "ticks": false, "title": null, "tickCount": 30, "values": [{"year":1900,"month":1,"date":1},{"year":1900,"month":2,"date":1},{"year":1900,"month":3,"date":1},{"year":1900,"month":4,"date":1},{"year":1900,"month":5,"date":1},{"year":1900,"month":6,"date":1},{"year":1900,"month":7,"date":1},{"year":1900,"month":8,"date":1},{"year":1900,"month":9,"date":1},{"year":1900,"month":10,"date":1},{"year":1900,"month":11,"date":1},{"year":1900,"month":12,"date":1}]}},
              "y": {"datum": 1270, "type": "quantitative"}}
          }
          ]
        },
        {
          "width": 222, "height": 137,
          "view": {"stroke": "#5f5f5f", "strokeWidth": 1.5},
          "resolve": {"axis": {"x": "independent"}},
          "layer": [
          {
            "data": {"name": "p2", "format": {"parse": {"d": "date:'%m/%d'"}}},
            "mark": {"type": "line"},
            "encoding": {
              "x": {"field": "d", "type": "temporal", "title": null,
                "scale": {"domain": [{"year":1900,"month":1,"date":1},{"year":1900,"month":12,"date":31}], "range": [27, 212], "nice": false},
                "axis": {"orient": "bottom", "offset": -19, "grid": false, "tickCount": 30, "labelOverlap": false, "labelFlush": false, "format": "%-m/%-d", "values": [{"year":1900,"month":1,"date":1},{"year":1900,"month":2,"date":1},{"year":1900,"month":3,"date":1},{"year":1900,"month":4,"date":1},{"year":1900,"month":5,"date":1},{"year":1900,"month":6,"date":1},{"year":1900,"month":7,"date":1},{"year":1900,"month":8,"date":1},{"year":1900,"month":9,"date":1},{"year":1900,"month":10,"date":1},{"year":1900,"month":11,"date":1},{"year":1900,"month":12,"date":1}]}},
              "y": {"field": "v", "type": "quantitative", "title": null,
                "scale": {"domain": [0, 800], "range": [118, 3], "nice": false, "zero": false},
                "axis": {"offset": -27, "grid": true, "tickCount": 30, "labelOverlap": false, "format": "d", "values": [0, 200, 400, 600, 800]}},
              "color": {"field": "s", "type": "nominal",
                "scale": {"domain": ["2018年","2019年","2020年","2021年","2022年","2023年"], "range": ["#fbd57e","#b8d8a0","#b8d3ee","#f6c2a2","#ff2a2a","#0d0d0d"]},
                "legend": {"title": null, "legendX": 47, "legendY": 2, "encode": {"symbols": {"update": {"strokeWidth": {"signal": "datum.value == '2022年' ? 2.6 : datum.value == '2023年' ? 2.1 : 1.4"}}}}}},
              "strokeWidth": {"condition": [{"test": "datum.s == '2022年'", "value": 2.6}, {"test": "datum.s == '2023年'", "value": 2.1}], "value": 1.3}
            }
          },
          {
            "data": {"values": [{"t": "中国尿素周度港口库存"}]},
            "mark": {"type": "text", "font": "Noto Sans CJK SC", "fontWeight": "bold", "fontSize": 11.5, "color": "#404040", "align": "left", "baseline": "middle"},
            "encoding": {"text": {"field": "t", "type": "nominal"},
              "x": {"datum": {"year":1900,"month":1,"date":3}, "type": "temporal", "axis": {"orient": "top", "grid": true, "labels": false, "domain": false, "ticks": false, "title": null, "tickCount": 30, "values": [{"year":1900,"month":1,"date":1},{"year":1900,"month":2,"date":1},{"year":1900,"month":3,"date":1},{"year":1900,"month":4,"date":1},{"year":1900,"month":5,"date":1},{"year":1900,"month":6,"date":1},{"year":1900,"month":7,"date":1},{"year":1900,"month":8,"date":1},{"year":1900,"month":9,"date":1},{"year":1900,"month":10,"date":1},{"year":1900,"month":11,"date":1},{"year":1900,"month":12,"date":1}]}},
              "y": {"datum": 494, "type": "quantitative"}}
          }
          ]
        }
        ]
      },
      {
        "spacing": 0,
        "resolve": {"scale": {"color": "independent"}, "legend": {"color": "independent"}},
        "hconcat": [
        {
          "width": 220, "height": 138,
          "view": {"stroke": "#5f5f5f", "strokeWidth": 1.5},
          "resolve": {"axis": {"x": "independent"}},
          "layer": [
          {
            "data": {"name": "p3", "format": {"parse": {"d": "date:'%m/%d'"}}},
            "mark": {"type": "line"},
            "encoding": {
              "x": {"field": "d", "type": "temporal", "title": null,
                "scale": {"domain": [{"year":1900,"month":1,"date":1},{"year":1900,"month":12,"date":31}], "range": [25, 211], "nice": false},
                "axis": {"orient": "bottom", "offset": -18, "grid": false, "tickCount": 30, "labelOverlap": false, "labelFlush": false, "labelPadding": 2, "format": "%-m/%-d", "values": [{"year":1900,"month":1,"date":1},{"year":1900,"month":2,"date":1},{"year":1900,"month":3,"date":1},{"year":1900,"month":4,"date":1},{"year":1900,"month":5,"date":1},{"year":1900,"month":6,"date":1},{"year":1900,"month":7,"date":1},{"year":1900,"month":8,"date":1},{"year":1900,"month":9,"date":1},{"year":1900,"month":10,"date":1},{"year":1900,"month":11,"date":1},{"year":1900,"month":12,"date":1}]}},
              "y": {"field": "v", "type": "quantitative", "title": null,
                "scale": {"domain": [0, 150], "range": [120, 5], "nice": false, "zero": false},
                "axis": {"offset": -25, "grid": true, "tickCount": 30, "labelOverlap": false, "format": "d", "values": [0, 50, 100, 150]}},
              "color": {"field": "s", "type": "nominal",
                "scale": {"domain": ["2018年","2019年","2020年","2021年","2022年","2023年"], "range": ["#fbd57e","#b8d8a0","#b8d3ee","#f6c2a2","#ff2a2a","#0d0d0d"]},
                "legend": {"title": null, "legendX": 52, "legendY": 0, "encode": {"symbols": {"update": {"strokeWidth": {"signal": "datum.value == '2022年' ? 2.6 : datum.value == '2023年' ? 2.1 : 1.4"}}}}}},
              "strokeWidth": {"condition": [{"test": "datum.s == '2022年'", "value": 2.6}, {"test": "datum.s == '2023年'", "value": 2.1}], "value": 1.3}
            }
          },
          {
            "data": {"values": [{"t": "中国样本复合肥周度企业库存"}]},
            "mark": {"type": "text", "font": "Noto Sans CJK SC", "fontWeight": "bold", "fontSize": 11.5, "color": "#404040", "align": "center", "baseline": "middle"},
            "encoding": {"text": {"field": "t", "type": "nominal"},
              "x": {"datum": {"year":1900,"month":7,"date":2}, "type": "temporal", "axis": {"orient": "top", "grid": true, "labels": false, "domain": false, "ticks": false, "title": null, "tickCount": 30, "values": [{"year":1900,"month":1,"date":1},{"year":1900,"month":2,"date":1},{"year":1900,"month":3,"date":1},{"year":1900,"month":4,"date":1},{"year":1900,"month":5,"date":1},{"year":1900,"month":6,"date":1},{"year":1900,"month":7,"date":1},{"year":1900,"month":8,"date":1},{"year":1900,"month":9,"date":1},{"year":1900,"month":10,"date":1},{"year":1900,"month":11,"date":1},{"year":1900,"month":12,"date":1}]}},
              "y": {"datum": 21, "type": "quantitative"}}
          }
          ]
        },
        {
          "width": 222, "height": 138,
          "view": {"stroke": "#5f5f5f", "strokeWidth": 1.5},
          "resolve": {"axis": {"x": "independent"}},
          "layer": [
          {
            "data": {"name": "p4", "format": {"parse": {"d": "date:'%m/%d'"}}},
            "mark": {"type": "line"},
            "encoding": {
              "x": {"field": "d", "type": "temporal", "title": null,
                "scale": {"domain": [{"year":1900,"month":1,"date":1},{"year":1900,"month":12,"date":31}], "range": [27, 212], "nice": false},
                "axis": {"orient": "bottom", "offset": -17, "grid": false, "tickCount": 30, "labelOverlap": false, "labelFlush": false, "labelPadding": 5, "format": "%-m/%-d", "values": [{"year":1900,"month":1,"date":1},{"year":1900,"month":2,"date":1},{"year":1900,"month":3,"date":1},{"year":1900,"month":4,"date":1},{"year":1900,"month":5,"date":1},{"year":1900,"month":6,"date":1},{"year":1900,"month":7,"date":1},{"year":1900,"month":8,"date":1},{"year":1900,"month":9,"date":1},{"year":1900,"month":10,"date":1},{"year":1900,"month":11,"date":1},{"year":1900,"month":12,"date":1}]}},
              "y": {"field": "v", "type": "quantitative", "title": null,
                "scale": {"domain": [0, 200], "range": [121, 5], "nice": false, "zero": false},
                "axis": {"offset": -27, "grid": true, "tickCount": 30, "labelOverlap": false, "format": "d", "values": [0, 50, 100, 150, 200]}},
              "color": {"field": "s", "type": "nominal",
                "scale": {"domain": ["2018年","2019年","2020年","2021年","2022年","2023年"], "range": ["#fbd57e","#b8d8a0","#b8d3ee","#f6c2a2","#ff2a2a","#0d0d0d"]},
                "legend": {"title": null, "legendX": 43, "legendY": 4, "encode": {"symbols": {"update": {"strokeWidth": {"signal": "datum.value == '2022年' ? 2.6 : datum.value == '2023年' ? 2.1 : 1.4"}}}}}},
              "strokeWidth": {"condition": [{"test": "datum.s == '2022年'", "value": 2.6}, {"test": "datum.s == '2023年'", "value": 2.1}], "value": 1.3}
            }
          },
          {
            "data": {"values": [{"t": "中国三聚氰胺月度社会库存"}]},
            "mark": {"type": "text", "font": "Noto Sans CJK SC", "fontWeight": "bold", "fontSize": 11.5, "color": "#404040", "align": "left", "baseline": "middle"},
            "encoding": {"text": {"field": "t", "type": "nominal"},
              "x": {"datum": {"year":1900,"month":1,"date":3}, "type": "temporal", "axis": {"orient": "top", "grid": true, "labels": false, "domain": false, "ticks": false, "title": null, "tickCount": 30, "values": [{"year":1900,"month":1,"date":1},{"year":1900,"month":2,"date":1},{"year":1900,"month":3,"date":1},{"year":1900,"month":4,"date":1},{"year":1900,"month":5,"date":1},{"year":1900,"month":6,"date":1},{"year":1900,"month":7,"date":1},{"year":1900,"month":8,"date":1},{"year":1900,"month":9,"date":1},{"year":1900,"month":10,"date":1},{"year":1900,"month":11,"date":1},{"year":1900,"month":12,"date":1}]}},
              "y": {"datum": 88, "type": "quantitative"}}
          }
          ]
        }
        ]
      }
      ]
    }
    ]
  },
  {
    "width": 521, "height": 3,
    "view": {"fill": "#063f7f", "stroke": null},
    "data": {"values": []},
    "mark": "point",
    "title": {"text": "数据来源：Wind、中粮期货研究院", "orient": "bottom", "anchor": "start", "offset": 9, "dx": 32, "font": "Noto Sans CJK SC", "fontSize": 12, "fontStyle": "italic", "fontWeight": "normal", "color": "#a6a6a6"}
  }
  ]
}
]
}
